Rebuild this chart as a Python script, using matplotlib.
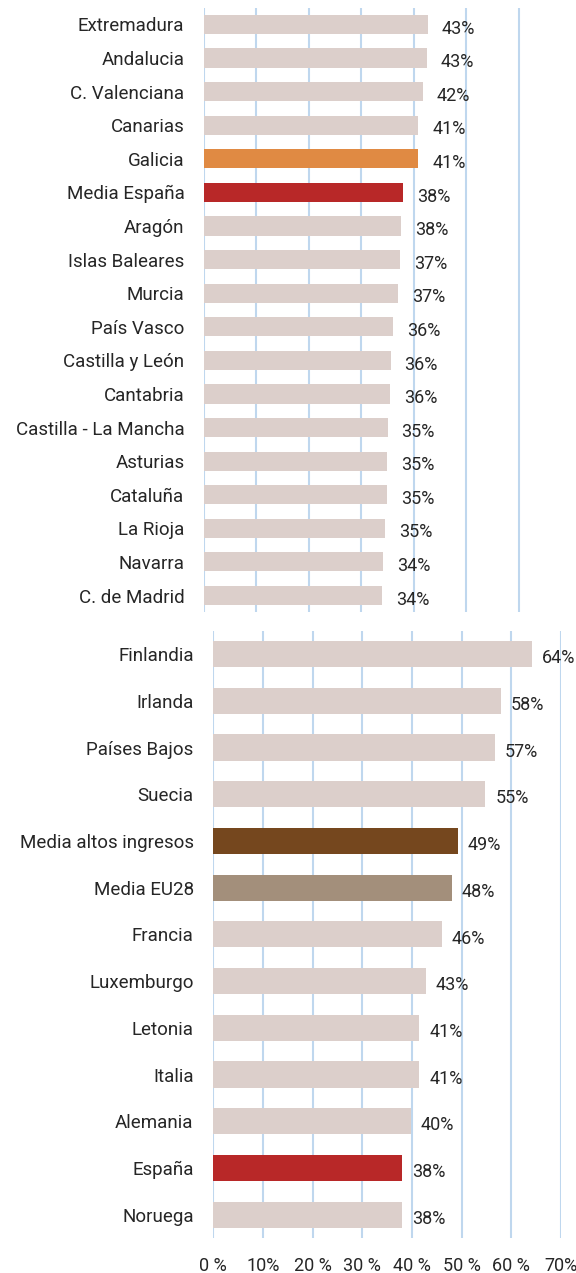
import matplotlib.pyplot as plt
import numpy as np

plt.rcParams['font.family'] = ['Roboto', 'DejaVu Sans']

# --- DATA ---
regiones = ["Extremadura", "Andalucia", "C. Valenciana", "Canarias", "Galicia",
            "Media España", "Aragón", "Islas Baleares", "Murcia", "País Vasco",
            "Castilla y León", "Cantabria", "Castilla - La Mancha", "Asturias",
            "Cataluña", "La Rioja", "Navarra", "C. de Madrid"]
valores_reg = [0.427, 0.425, 0.417, 0.409, 0.409, 0.380, 0.376, 0.374, 0.370,
               0.361, 0.356, 0.355, 0.350, 0.349, 0.349, 0.346, 0.341, 0.340]
etiquetas_reg = ["43%", "43%", "42%", "41%", "41%", "38%", "38%", "37%", "37%",
                 "36%", "36%", "36%", "35%", "35%", "35%", "35%", "34%", "34%"]

paises = ["Finlandia", "Irlanda", "Países Bajos", "Suecia", "Media altos ingresos",
          "Media EU28", "Francia", "Luxemburgo", "Letonia", "Italia", "Alemania",
          "España", "Noruega"]
valores_pai = [0.641, 0.579, 0.568, 0.548, 0.492, 0.481, 0.461, 0.429, 0.415,
               0.415, 0.398, 0.380, 0.380]
etiquetas_pai = ["64%", "58%", "57%", "55%", "49%", "48%", "46%", "43%", "41%",
                 "41%", "40%", "38%", "38%"]

ticks_x = [0, 0.1, 0.2, 0.3, 0.4, 0.5, 0.6, 0.7]
ticks_x_lbl = ["0 %", "10%", "20 %", "30 %", "40 %", "50 %", "60 %", "70%"]

# --- STYLE ---
GRIS = "#DCCFCB"
GRID = "#BFD7EE"
TXT = "#262626"
colores_reg = [GRIS] * len(regiones)
colores_reg[regiones.index("Galicia")] = "#E08A43"
colores_reg[regiones.index("Media España")] = "#B82828"
colores_pai = [GRIS] * len(paises)
colores_pai[paises.index("Media altos ingresos")] = "#75471E"
colores_pai[paises.index("Media EU28")] = "#A38F7B"
colores_pai[paises.index("España")] = "#B82828"

fig = plt.figure(figsize=(5.76, 12.73), dpi=100)
ax1 = fig.add_axes([0.354, 0.519, 0.592, 0.475])
ax2 = fig.add_axes([0.370, 0.0275, 0.604, 0.477])


def draw(ax, labels, vals, texts, colors, height, xmax, grid_ticks, dx):
    y = np.arange(len(labels))
    ax.barh(y, vals, height=height, color=colors, zorder=2)
    for yi, v, t in zip(y, vals, texts):
        ax.annotate(t, (v, yi), xytext=(dx, -3), textcoords="offset points",
                    va="center", ha="left", fontsize=13, color=TXT)
    ax.set_yticks(y)
    ax.set_yticklabels(labels, fontsize=13.5, color=TXT)
    ax.set_ylim(len(labels) - 0.5, -0.5)
    ax.set_xlim(0, xmax)
    for g in grid_ticks:
        ax.axvline(g, color=GRID, lw=1.5, zorder=1)
    ax.tick_params(axis="y", length=0, pad=14)
    ax.tick_params(axis="x", length=0)
    for s in ax.spines.values():
        s.set_visible(False)


draw(ax1, regiones, valores_reg, etiquetas_reg, colores_reg, 0.57, 0.65, ticks_x[:7], 10)
ax1.set_xticks([])

draw(ax2, paises, valores_pai, etiquetas_pai, colores_pai, 0.56, 0.7, ticks_x, 7)
ax2.set_xticks(ticks_x)
ax2.set_xticklabels(ticks_x_lbl, fontsize=13, color=TXT)
ax2.tick_params(axis="x", pad=14)

fig.savefig("out.png", dpi=100, facecolor="white")
